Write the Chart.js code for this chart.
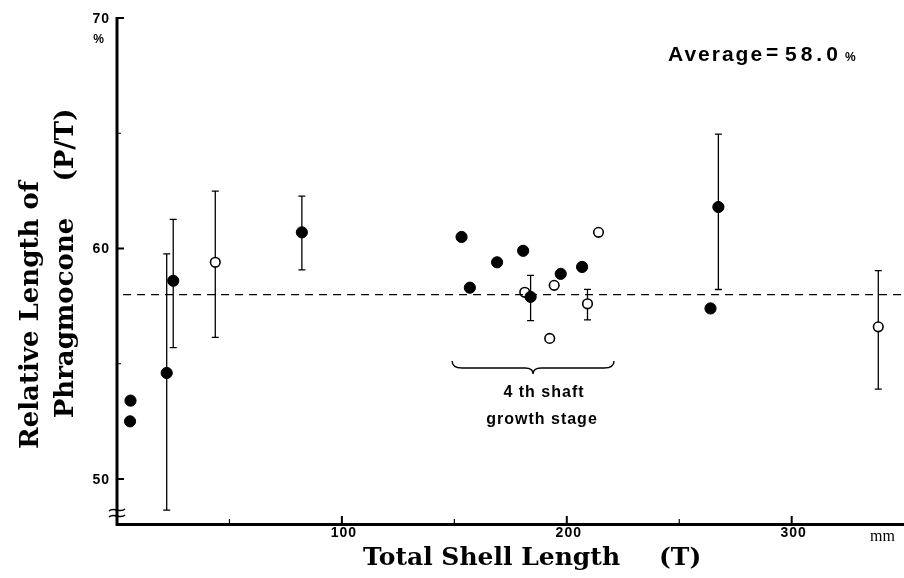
<!DOCTYPE html>
<html>
<head>
<meta charset="utf-8">
<script src="https://cdn.jsdelivr.net/npm/chart.js@4.4.1/dist/chart.umd.min.js"></script>
<style>
  html, body { margin: 0; padding: 0; background: #fff; }
  #wrap { width: 904px; height: 578px; }
</style>
</head>
<body>
<div id="wrap"><canvas id="plot" width="904" height="578"></canvas></div>
<script>
// Solid circles: total shell length (mm), P/T (%), and error bar range where drawn
const filledX  = [6.0, 5.8, 22.1, 25.0, 82.2, 153.2, 156.9, 169.0, 180.6, 183.9, 197.3, 206.8, 263.9, 267.4];
const filledY  = [53.4, 52.5, 54.6, 58.6, 60.7, 60.5, 58.3, 59.4, 59.9, 57.9, 58.9, 59.2, 57.4, 61.8];
const filledLo = [null, null, 48.65, 55.7, 59.07, null, null, null, null, 56.87, null, null, null, 58.22];
const filledHi = [null, null, 59.77, 61.26, 62.27, null, null, null, null, 58.83, null, null, null, 64.96];

// Open circles
const openX  = [43.7, 181.3, 192.4, 194.4, 209.2, 214.1, 338.5];
const openY  = [59.4, 58.1, 56.1, 58.4, 57.6, 60.7, 56.6];
const openLo = [56.14, null, null, null, 56.9, null, 53.9];
const openHi = [62.49, null, null, null, 58.23, null, 59.04];

const averageValue = 58.0;
const averageRange = [2.7, 352];

const xTicks = [100, 200, 300];
const xMinor = [50, 150, 250];
const yTicks = [50, 60, 70];
const yMinor = [55, 65];
const braceRange = [149, 221];

const toPoints = (xs, ys) => xs.map((x, i) => ({ x: x, y: ys[i] }));

// error bars, axes, labels and notes drawn with the chart's own scales
const decorations = {
  id: 'decorations',
  beforeDatasetsDraw(chart) {
    const ctx = chart.ctx;
    const xs = chart.scales.x, ys = chart.scales.y;
    ctx.save();
    ctx.strokeStyle = '#000';
    ctx.lineWidth = 1.3;
    const bars = [[filledX, filledLo, filledHi], [openX, openLo, openHi]];
    bars.forEach(([bx, lo, hi]) => {
      bx.forEach((x, i) => {
        if (lo[i] == null) return;
        const px = xs.getPixelForValue(x);
        const p1 = ys.getPixelForValue(lo[i]);
        const p2 = ys.getPixelForValue(hi[i]);
        ctx.beginPath();
        ctx.moveTo(px, p1); ctx.lineTo(px, p2);
        ctx.moveTo(px - 3.5, p1); ctx.lineTo(px + 3.5, p1);
        ctx.moveTo(px - 3.5, p2); ctx.lineTo(px + 3.5, p2);
        ctx.stroke();
      });
    });
    ctx.restore();
  },
  afterDraw(chart) {
    const ctx = chart.ctx;
    const xs = chart.scales.x, ys = chart.scales.y;
    const area = chart.chartArea;
    const x0 = xs.getPixelForValue(0);
    const yb = area.bottom;
    ctx.save();
    ctx.strokeStyle = '#000';
    ctx.fillStyle = '#000';

    // axes
    ctx.lineWidth = 3;
    ctx.beginPath();
    ctx.moveTo(x0, ys.getPixelForValue(70) - 1);
    ctx.lineTo(x0, yb + 1.5);
    ctx.lineTo(chart.width, yb + 1.5);
    ctx.stroke();

    // inward ticks
    ctx.lineWidth = 2;
    ctx.beginPath();
    yTicks.forEach(v => { const p = ys.getPixelForValue(v); ctx.moveTo(x0, p); ctx.lineTo(x0 + 7, p); });
    xTicks.forEach(v => { const p = xs.getPixelForValue(v); ctx.moveTo(p, yb); ctx.lineTo(p, yb - 7); });
    ctx.stroke();
    ctx.lineWidth = 1.2;
    ctx.beginPath();
    yMinor.forEach(v => { const p = ys.getPixelForValue(v); ctx.moveTo(x0, p); ctx.lineTo(x0 + 4, p); });
    xMinor.forEach(v => { const p = xs.getPixelForValue(v); ctx.moveTo(p, yb); ctx.lineTo(p, yb - 4); });
    ctx.stroke();

    // axis break mark
    ctx.lineWidth = 1.4;
    [-3, 3].forEach(d => {
      const yy = yb - 10 + d;
      ctx.beginPath();
      ctx.moveTo(x0 - 8, yy + 1);
      ctx.bezierCurveTo(x0 - 3, yy - 4, x0 + 3, yy + 4, x0 + 8, yy - 1);
      ctx.stroke();
    });

    // tick labels
    ctx.font = 'bold 14px "Liberation Sans", Arial, sans-serif';
    ctx.letterSpacing = '1px';
    ctx.textAlign = 'right';
    ctx.textBaseline = 'middle';
    yTicks.forEach(v => ctx.fillText(String(v), x0 - 7, ys.getPixelForValue(v) + 1));
    ctx.font = 'bold 12px "Liberation Sans", Arial, sans-serif';
    ctx.fillText('%', x0 - 12, ys.getPixelForValue(70) + 22);
    ctx.font = 'bold 14px "Liberation Sans", Arial, sans-serif';
    ctx.textAlign = 'center';
    xTicks.forEach(v => ctx.fillText(String(v), xs.getPixelForValue(v) + 2, yb + 10));
    ctx.letterSpacing = '0px';
    ctx.font = '16px "Liberation Serif", serif';
    ctx.textAlign = 'left';
    ctx.fillText('mm', 870, yb + 14);

    // axis titles
    ctx.font = 'bold 25px "DejaVu Serif", serif';
    ctx.textBaseline = 'middle';
    ctx.fillText('Total Shell Length', 363, 558);
    ctx.fillText('(T)', 659, 558);
    ctx.font = 'bold 26px "DejaVu Serif", serif';
    ctx.save();
    ctx.translate(31, 315);
    ctx.rotate(-Math.PI / 2);
    ctx.textAlign = 'center';
    ctx.fillText('Relative Length of', 0, 0);
    ctx.restore();
    ctx.save();
    ctx.translate(66, 0);
    ctx.rotate(-Math.PI / 2);
    ctx.textAlign = 'center';
    ctx.fillText('Phragmocone', -318, 0);
    ctx.fillText('(P/T)', -145, 0);
    ctx.restore();

    // average note
    ctx.textAlign = 'left';
    ctx.textBaseline = 'middle';
    ctx.font = 'bold 21px "Liberation Sans", Arial, sans-serif';
    ctx.letterSpacing = '2px';
    ctx.fillText('Average', 668, 55);
    ctx.letterSpacing = '0px';
    ctx.fillText('=', 766, 53);
    ctx.letterSpacing = '4px';
    ctx.fillText('58.0', 785, 55);
    ctx.letterSpacing = '0px';
    ctx.font = 'bold 12px "Liberation Sans", Arial, sans-serif';
    ctx.fillText('%', 845, 58);

    // brace for the 4th shaft growth stage
    const bl = xs.getPixelForValue(braceRange[0]);
    const br = xs.getPixelForValue(braceRange[1]);
    const bm = (bl + br) / 2;
    const bt = 361, bd = 368, tip = 374;
    ctx.lineWidth = 1.4;
    ctx.beginPath();
    ctx.moveTo(bl, bt);
    ctx.quadraticCurveTo(bl, bd, bl + 10, bd);
    ctx.lineTo(bm - 8, bd);
    ctx.quadraticCurveTo(bm, bd, bm, tip);
    ctx.quadraticCurveTo(bm, bd, bm + 8, bd);
    ctx.lineTo(br - 10, bd);
    ctx.quadraticCurveTo(br, bd, br, bt);
    ctx.stroke();
    ctx.font = 'bold 16px "Liberation Sans", Arial, sans-serif';
    ctx.textAlign = 'center';
    ctx.letterSpacing = '1px';
    ctx.fillText('4 th shaft', 544, 393);
    ctx.fillText('growth stage', 542, 420);
    ctx.letterSpacing = '0px';
    ctx.restore();
  }
};

const ctx = document.getElementById('plot').getContext('2d');
new Chart(ctx, {
  type: 'scatter',
  data: {
    datasets: [
      {
        label: 'Average',
        type: 'line',
        data: averageRange.map(x => ({ x: x, y: averageValue })),
        borderColor: '#000',
        borderWidth: 1.2,
        borderDash: [8, 6],
        pointRadius: 0,
        fill: false
      },
      {
        label: 'Solid',
        data: toPoints(filledX, filledY),
        pointRadius: 5.6,
        pointBackgroundColor: '#000',
        pointBorderColor: '#000',
        pointBorderWidth: 1
      },
      {
        label: 'Open',
        data: toPoints(openX, openY),
        pointRadius: 4.8,
        pointBackgroundColor: '#fff',
        pointBorderColor: '#000',
        pointBorderWidth: 1.6
      }
    ]
  },
  options: {
    responsive: false,
    animation: false,
    clip: false,
    layout: { padding: { left: 117, right: 0, top: 18, bottom: 55 } },
    plugins: { legend: { display: false }, tooltip: { enabled: false } },
    scales: {
      x: { type: 'linear', min: 0, max: 347, display: false },
      y: { type: 'linear', min: 48.09, max: 70, display: false }
    }
  },
  plugins: [decorations]
});
</script>
</body>
</html>
